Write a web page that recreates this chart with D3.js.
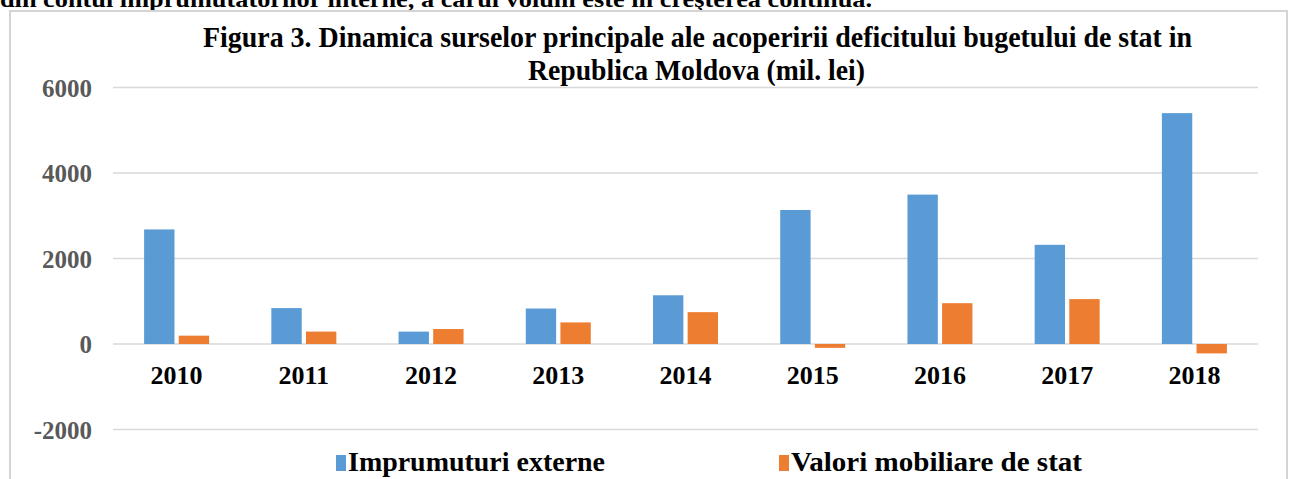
<!DOCTYPE html>
<html><head><meta charset="utf-8">
<script src="https://cdn.jsdelivr.net/npm/d3@7"></script>
<style>body{margin:0;background:#fff;overflow:hidden}svg{display:block}</style>
</head><body>
<script>
const categories = ["2010","2011","2012","2013","2014","2015","2016","2017","2018"];
const seriesNames = ["Imprumuturi externe","Valori mobiliare de stat"];
const externe = [2680, 840, 290, 830, 1140, 3135, 3495, 2320, 5400];
const valori = [195, 290, 350, 505, 745, -90, 955, 1050, -220];
const yTicks = [-2000, 0, 2000, 4000, 6000];
const colors = ["#5b9bd5", "#ed7d31"];

const W = 1292, H = 479;
const svg = d3.select("body").append("svg").attr("width", W).attr("height", H);
const font = "'Liberation Serif','Times New Roman',serif";

// Cut-off text line from the page above (only its lower part is visible in the reference)
svg.append("text").attr("x", 0).attr("y", 7)
  .attr("font-family", font).attr("font-weight", "bold").attr("font-size", 24)
  .attr("textLength", 872).attr("lengthAdjust", "spacingAndGlyphs")
  .text("din contul împrumutatorilor interne, a cărui volum este în creşterea continuă.");

// frame
svg.append("rect").attr("x", 10).attr("y", 11).attr("width", 1277).attr("height", 480)
  .attr("fill", "none").attr("stroke", "#d4d4d4").attr("stroke-width", 2);

const x0 = d3.scaleBand().domain(categories).range([113, 1258]);
const groupW = 65;
const x1 = d3.scaleBand().domain(seriesNames)
  .range([x0.bandwidth()/2 - groupW/2, x0.bandwidth()/2 + groupW/2]).paddingInner(8/65);
const y = d3.scaleLinear().domain([-2000, 6000]).range([429.5, 87.5]);

// grid
svg.append("g").selectAll("line").data(yTicks).join("line")
  .attr("x1", 113).attr("x2", 1258)
  .attr("y1", d => y(d)).attr("y2", d => y(d))
  .attr("stroke", "#d9d9d9").attr("stroke-width", 1.5);

// y labels
svg.append("g").selectAll("text").data(yTicks).join("text")
  .attr("x", 92).attr("y", d => y(d)).attr("dy", "0.36em")
  .attr("text-anchor", "end")
  .attr("font-family", font).attr("font-weight", "bold").attr("font-size", 25)
  .attr("fill", "#595959")
  .text(d => d);

// bars
const data = [externe, valori];
const g = svg.append("g");
categories.forEach((c, i) => {
  seriesNames.forEach((s, j) => {
    const v = data[j][i];
    g.append("rect")
      .attr("x", x0(c) + x1(s)).attr("width", x1.bandwidth())
      .attr("y", y(Math.max(0, v))).attr("height", Math.abs(y(v) - y(0)))
      .attr("fill", colors[j]);
  });
});

// x labels
svg.append("g").selectAll("text").data(categories).join("text")
  .attr("x", d => x0(d) + x0.bandwidth()/2).attr("y", 384)
  .attr("text-anchor", "middle")
  .attr("font-family", font).attr("font-weight", "bold").attr("font-size", 26)
  .attr("fill", "#000")
  .text(d => d);

// title
const t1 = "Figura 3. Dinamica surselor principale ale acoperirii deficitului bugetului de stat in";
const t2 = "Republica Moldova (mil. lei)";
svg.append("text").attr("x", 203).attr("y", 47)
  .attr("font-family", font).attr("font-weight", "bold").attr("font-size", 29)
  .attr("textLength", 989).attr("lengthAdjust", "spacingAndGlyphs").text(t1);
svg.append("text").attr("x", 528).attr("y", 80)
  .attr("font-family", font).attr("font-weight", "bold").attr("font-size", 29)
  .attr("textLength", 337).attr("lengthAdjust", "spacingAndGlyphs").text(t2);

// legend
const legX = [336, 779], legTextX = [348, 791], legLen = [257, 291];
seriesNames.forEach((s, j) => {
  svg.append("rect").attr("x", legX[j]).attr("y", 455).attr("width", 10).attr("height", 16)
    .attr("fill", colors[j]);
  svg.append("text").attr("x", legTextX[j]).attr("y", 471)
    .attr("font-family", font).attr("font-weight", "bold").attr("font-size", 27)
    .attr("textLength", legLen[j]).attr("lengthAdjust", "spacingAndGlyphs").text(s);
});
</script>
</body></html>
